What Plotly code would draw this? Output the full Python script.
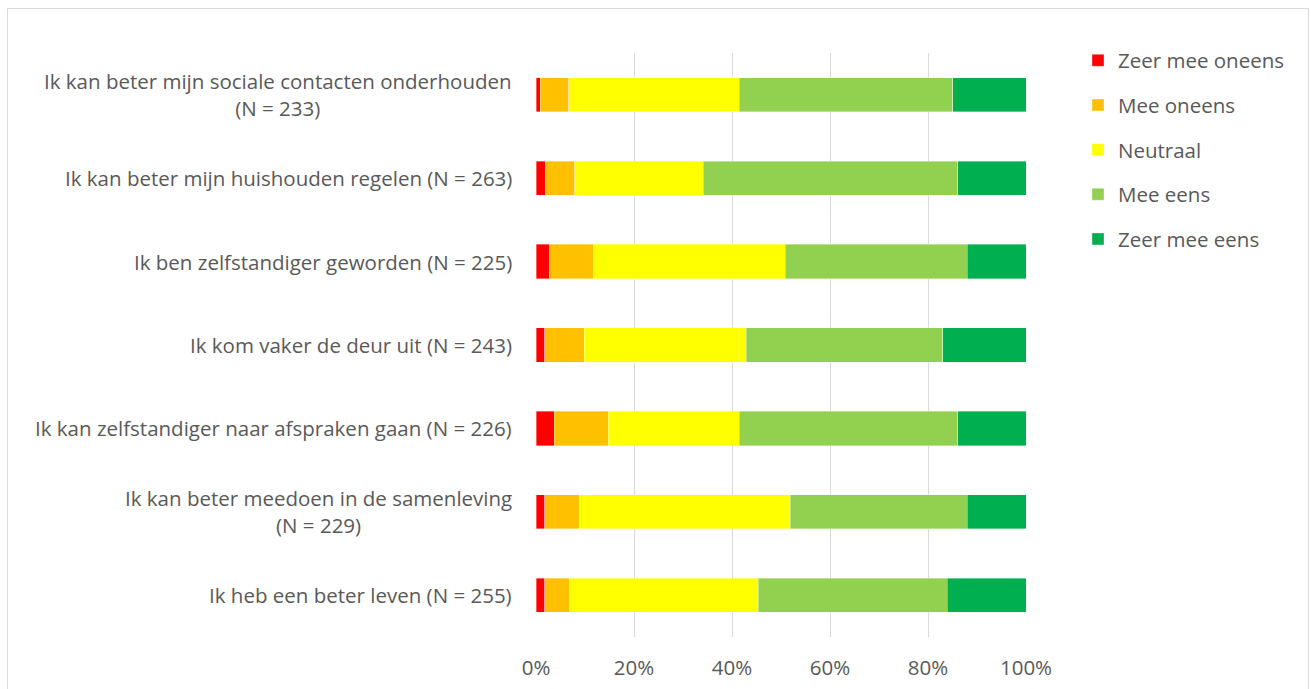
import plotly.graph_objects as go

categories = [
    "Ik kan beter mijn sociale contacten onderhouden<br>(N = 233)",
    "Ik kan beter mijn huishouden regelen (N = 263)",
    "Ik ben zelfstandiger geworden (N = 225)",
    "Ik kom vaker de deur uit (N = 243)",
    "Ik kan zelfstandiger naar afspraken gaan (N = 226)",
    "Ik kan beter meedoen in de samenleving<br>(N = 229)",
    "Ik heb een beter leven (N = 255)",
]
series_names = ["Zeer mee oneens", "Mee oneens", "Neutraal", "Mee eens", "Zeer mee eens"]
zeer_mee_oneens = [0.9, 1.9, 2.7, 1.8, 3.7, 1.8, 1.8]
mee_oneens = [5.8, 6.0, 9.1, 8.0, 11.0, 7.0, 5.1]
neutraal = [34.8, 26.2, 39.1, 33.1, 26.8, 43.1, 38.5]
mee_eens = [43.6, 52.0, 37.1, 40.1, 44.6, 36.1, 38.5]
zeer_mee_eens = [14.9, 13.9, 12.0, 17.0, 13.9, 12.0, 16.1]
colors = ["#FF0000", "#FFC000", "#FFFF00", "#92D050", "#00B050"]
x_ticks = [0, 20, 40, 60, 80, 100]
x_ticklabels = ["0%", "20%", "40%", "60%", "80%", "100%"]

series_values = [zeer_mee_oneens, mee_oneens, neutraal, mee_eens, zeer_mee_eens]

FONT = "Open Sans"
GRAY = "#595959"
FS = 20.5

fig = go.Figure()
for i, (name, vals, col) in enumerate(zip(series_names, series_values, colors)):
    fig.add_trace(go.Bar(
        y=categories, x=vals, name=name, orientation="h",
        marker=dict(color=col, line=dict(color="rgba(255,255,255,0.6)", width=0.6)),
        legendgroup=f"g{i}",
    ))

annotations = []
for c in categories:
    annotations.append(dict(
        x=(514 - 536) / 490, xref="paper", y=c, yref="y",
        text=c, showarrow=False, xanchor="right", yanchor="middle",
        align="center", font=dict(family=FONT, size=FS, color=GRAY),
    ))

fig.update_layout(
    width=1311, height=689,
    barmode="stack", bargap=0.59,
    margin=dict(l=536, r=1311 - 1026, t=53, b=689 - 637, autoexpand=False),
    paper_bgcolor="white", plot_bgcolor="white",
    font=dict(family=FONT, size=FS, color=GRAY),
    showlegend=True,
    legend=dict(
        x=(1078 - 536) / 490, xanchor="left",
        y=(637 - 40.5) / 584, yanchor="top",
        traceorder="grouped", tracegroupgap=15,
        font=dict(family=FONT, size=FS, color=GRAY),
        itemwidth=30, bgcolor="rgba(0,0,0,0)",
    ),
    annotations=annotations,
    shapes=[dict(
        type="rect", xref="paper", yref="paper",
        x0=(7.5 - 536) / 490, x1=(1308.5 - 536) / 490,
        y0=(637 - 720) / 584, y1=(637 - 8.5) / 584,
        line=dict(color="#D9D9D9", width=1), fillcolor="rgba(0,0,0,0)",
        layer="below",
    )],
)
fig.update_xaxes(
    range=[0, 100], tickvals=x_ticks, ticktext=x_ticklabels,
    showgrid=True, gridcolor="#D9D9D9", gridwidth=1,
    zeroline=False, showline=False, automargin=False,
    ticks="outside", ticklen=12, tickcolor="rgba(0,0,0,0)",
    tickfont=dict(family=FONT, size=FS, color=GRAY),
)
fig.update_yaxes(
    autorange="reversed", showticklabels=False, showgrid=False,
    zeroline=False, showline=False, automargin=False,
)

fig.write_html(
    "out.html",
    config={"displayModeBar": False},
    post_script="document.body.style.margin='0';document.body.style.overflow='hidden';",
)
